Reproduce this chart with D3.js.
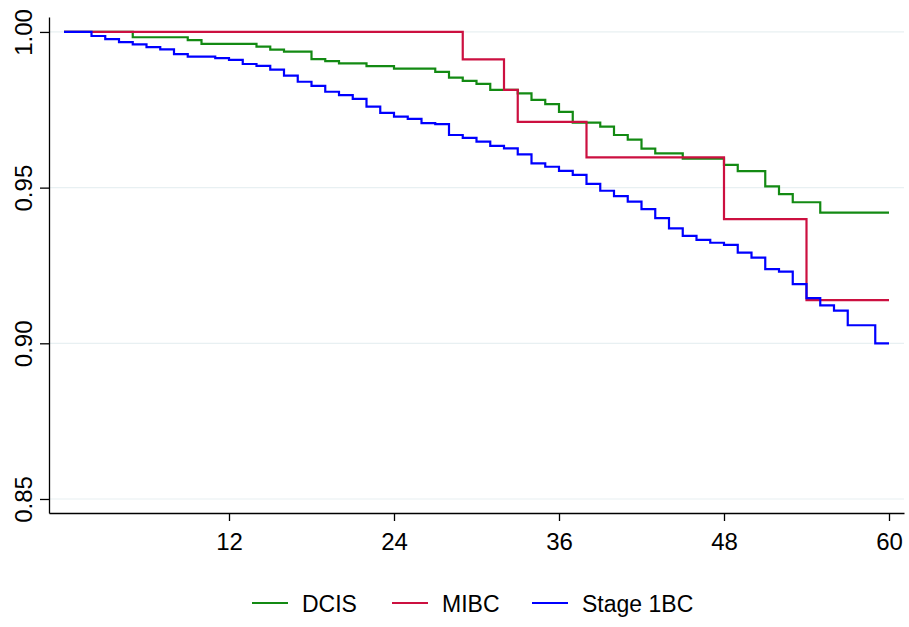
<!DOCTYPE html>
<html>
<head>
<meta charset="utf-8">
<script src="https://cdn.jsdelivr.net/npm/d3@7"></script>
<style>
  body { margin: 0; background: #fff; }
  svg { display: block; font-family: Arial, "Liberation Sans", sans-serif; }
</style>
</head>
<body>
<svg id="km"></svg>
<script>
/*
    DATA - Kaplan-Meier survival steps (month, survival)
*/
var groups = ["DCIS", "MIBC", "Stage 1BC"];
var colors = ["#138a13", "#cc1040", "#0000ff"];

var dcisMonths = [0, 5, 9, 10, 14, 15, 16, 18, 19, 20, 22, 24, 27, 28, 29, 30, 31, 33, 34, 35, 36, 37, 39, 40, 41, 42, 43, 45, 48, 49, 51, 52, 53, 55, 60];
var dcisSurv = [1.000, 0.9983, 0.9974, 0.9962, 0.9953, 0.9943, 0.9937, 0.9913, 0.9906, 0.9899, 0.9890, 0.9882, 0.9872, 0.9853, 0.9843, 0.9833, 0.9814, 0.9803, 0.9782, 0.9768, 0.9743, 0.9709, 0.9696, 0.9669, 0.9654, 0.9625, 0.9610, 0.9593, 0.9573, 0.9553, 0.9504, 0.9479, 0.9453, 0.9420, 0.9420];

var mibcMonths = [0, 29, 32, 33, 38, 48, 54, 60];
var mibcSurv = [1.000, 0.9912, 0.9814, 0.9711, 0.9597, 0.9399, 0.9139, 0.9139];

var stageMonths = [0, 2, 3, 4, 5, 6, 7, 8, 9, 11, 12, 13, 14, 15, 16, 17, 18, 19, 20, 21, 22, 23, 24, 25, 26, 27, 28, 29, 30, 31, 32, 33, 34, 35, 36, 37, 38, 39, 40, 41, 42, 43, 44, 45, 46, 47, 48, 49, 50, 51, 52, 53, 54, 55, 56, 57, 59, 60];
var stageSurv = [1.000, 0.9987, 0.9977, 0.9967, 0.9960, 0.9951, 0.9944, 0.9929, 0.9921, 0.9916, 0.9910, 0.9897, 0.9891, 0.9879, 0.9860, 0.9840, 0.9827, 0.9808, 0.9797, 0.9785, 0.9760, 0.9740, 0.9728, 0.9721, 0.9707, 0.9704, 0.9669, 0.9660, 0.9648, 0.9634, 0.9626, 0.9607, 0.9578, 0.9567, 0.9554, 0.9541, 0.9512, 0.9490, 0.9473, 0.9455, 0.9431, 0.9402, 0.9369, 0.9345, 0.9332, 0.9323, 0.9316, 0.9291, 0.9275, 0.9238, 0.9230, 0.9190, 0.9145, 0.9122, 0.9105, 0.9058, 0.9000, 0.9000];

var xTicks = [12, 24, 36, 48, 60];
var yTicks = [0.85, 0.90, 0.95, 1.00];

/*
    LAYOUT
*/
var width = 909;
var height = 627;

var svg = d3.select("#km")
    .attr("width", width)
    .attr("height", height);

var x = d3.scaleLinear()
    .domain([-1.0909, 61.0909])
    .range([49, 904]);

var y = d3.scaleLinear()
    .domain([0.8455, 1.0048])
    .range([513, 17]);

// gridlines
svg.append("g")
  .selectAll("line")
  .data(yTicks)
  .enter().append("line")
    .attr("x1", x.range()[0])
    .attr("x2", x.range()[1])
    .attr("y1", function(d) { return y(d); })
    .attr("y2", function(d) { return y(d); })
    .attr("stroke", "#e8f0f2")
    .attr("stroke-width", 1.2);

// axes
var yAxis = svg.append("g")
    .attr("transform", "translate(49,0)")
    .call(d3.axisLeft(y).tickValues(yTicks).tickFormat(d3.format(".2f")).tickSize(9).tickSizeOuter(0));

// tick groups are already placed at y(d); just rotate the label
yAxis.selectAll("text")
    .attr("x", 0)
    .attr("y", 0)
    .attr("dy", 0)
    .attr("transform", "translate(-17,0) rotate(-90)")
    .attr("text-anchor", "middle")
    .style("font-size", "24px")
    .attr("fill", "#000");

var xAxis = svg.append("g")
    .attr("transform", "translate(0,513)")
    .call(d3.axisBottom(x).tickValues(xTicks).tickSize(8).tickSizeOuter(0));

xAxis.selectAll("text")
    .attr("y", 0)
    .attr("dy", 0)
    .attr("transform", "translate(0,37)")
    .style("font-size", "24px")
    .attr("fill", "#000");

svg.selectAll(".domain, .tick line")
    .attr("stroke", "#000")
    .attr("stroke-width", 1.3);

// survival curves
var series = [
  d3.zip(dcisMonths, dcisSurv),
  d3.zip(mibcMonths, mibcSurv),
  d3.zip(stageMonths, stageSurv)
];

var line = d3.line()
    .x(function(d) { return x(d[0]); })
    .y(function(d) { return y(d[1]); })
    .curve(d3.curveStepAfter);

svg.append("g")
  .selectAll("path")
  .data(series)
  .enter().append("path")
    .attr("d", line)
    .attr("fill", "none")
    .attr("stroke", function(d, i) { return colors[i]; })
    .attr("stroke-width", 2.2);

// legend
var legendX = [252, 392, 532];
var legend = svg.append("g")
  .selectAll("g")
  .data(groups)
  .enter().append("g")
    .attr("transform", function(d, i) { return "translate(" + legendX[i] + ",603)"; });

legend.append("line")
    .attr("x1", 0)
    .attr("x2", 36)
    .attr("stroke", function(d, i) { return colors[i]; })
    .attr("stroke-width", 2);

legend.append("text")
    .attr("x", 50)
    .attr("y", 9)
    .style("font-size", "23px")
    .text(function(d) { return d; });
</script>
</body>
</html>
